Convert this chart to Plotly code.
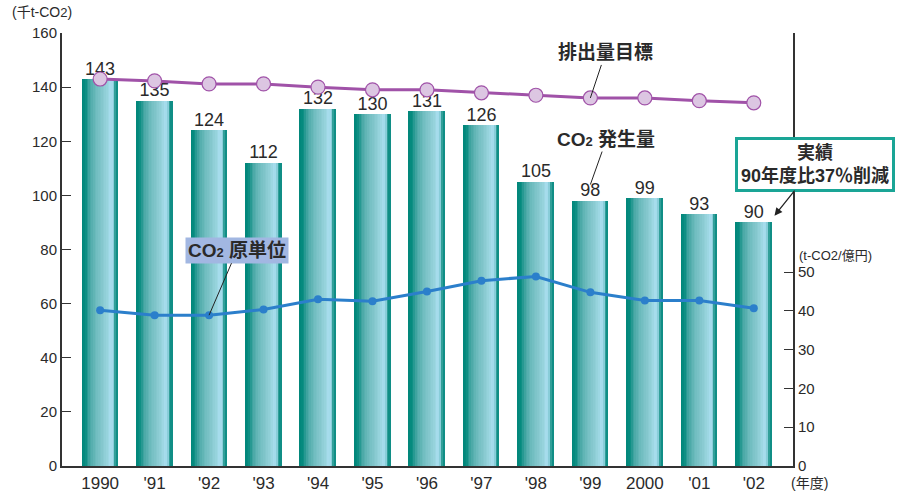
import plotly.graph_objects as go

# Fiscal years and values
years = ["1990", "'91", "'92", "'93", "'94", "'95", "'96", "'97", "'98", "'99", "2000", "'01", "'02"]
emissions = [143, 135, 124, 112, 132, 130, 131, 126, 105, 98, 99, 93, 90]          # 千t-CO2
target = [143, 142.3, 141.2, 141.2, 140, 139, 139, 137.9, 137, 136, 136, 135, 134.2]  # 排出量目標
intensity = [40.2, 38.9, 38.9, 40.4, 43.0, 42.5, 45.0, 47.8, 48.9, 44.8, 42.7, 42.7, 40.7]  # t-CO2/億円

left_ticks = [0, 20, 40, 60, 80, 100, 120, 140, 160]
right_ticks = [0, 10, 20, 30, 40, 50]

FONT = "Liberation Sans, Arial, Noto Sans CJK JP, sans-serif"
AXIS_COLOR = "#333333"
TEXT_COLOR = "#2a2a2a"

xs = list(range(len(years)))
BAR_W = 0.66
N_STRIPS = 22

# horizontal shading across each column: dark teal -> pale blue -> dark teal edge
stops = [
    (0.00, (0, 133, 122)),
    (0.10, (8, 140, 128)),
    (0.22, (70, 166, 164)),
    (0.40, (110, 188, 190)),
    (0.58, (134, 200, 206)),
    (0.72, (152, 212, 222)),
    (0.82, (170, 222, 240)),
    (0.88, (150, 212, 226)),
    (0.93, (50, 160, 154)),
    (1.00, (0, 134, 124)),
]


def shade(t):
    for (t0, c0), (t1, c1) in zip(stops[:-1], stops[1:]):
        if t0 <= t <= t1:
            f = (t - t0) / (t1 - t0) if t1 > t0 else 0
            c = [round(a + (b - a) * f) for a, b in zip(c0, c1)]
            return f"rgb({c[0]},{c[1]},{c[2]})"
    return "rgb(0,134,124)"


fig = go.Figure()

sw = BAR_W / N_STRIPS
for k in range(N_STRIPS):
    t = (k + 0.5) / N_STRIPS
    fig.add_trace(go.Bar(
        x=[x - BAR_W / 2 + (k + 0.5) * sw for x in xs],
        y=emissions,
        width=sw * 1.06,
        marker=dict(color=shade(t), line=dict(width=0)),
        hoverinfo="skip",
        showlegend=False,
    ))

# value labels above the columns
fig.add_trace(go.Scatter(
    x=xs, y=emissions, mode="text",
    text=[str(v) for v in emissions],
    textposition="top center",
    textfont=dict(family=FONT, size=18, color=TEXT_COLOR),
    cliponaxis=False, showlegend=False, hoverinfo="skip",
))

# emission target line
fig.add_trace(go.Scatter(
    x=xs, y=target, mode="lines+markers",
    line=dict(color="#a052a8", width=3),
    marker=dict(size=14, color="#dcc6e2", line=dict(color="#a052a8", width=1.2)),
    cliponaxis=False, showlegend=False,
))

# CO2 intensity line on the right axis
fig.add_trace(go.Scatter(
    x=xs, y=intensity, mode="lines+markers", yaxis="y2",
    line=dict(color="#2b7fcb", width=3),
    marker=dict(size=8, color="#2b7fcb"),
    cliponaxis=False, showlegend=False,
))

SUB2 = "<span style='font-size:13px'>2</span>"
ANN_FONT = dict(family=FONT, size=19, color=TEXT_COLOR)

annotations = [
    dict(x=9, y=136, xref="x", yref="y", text="<b>排出量目標</b>",
         ax=15, ay=-45, showarrow=True, arrowhead=0, arrowwidth=1, arrowcolor="#222",
         font=ANN_FONT),
    dict(x=9, y=104, xref="x", yref="y", text=f"<b>CO{SUB2} 発生量</b>",
         ax=16, ay=-45, showarrow=True, arrowhead=0, arrowwidth=1, arrowcolor="#222",
         font=ANN_FONT),
    dict(x=2, y=intensity[2], xref="x", yref="y2", text=f"<b>CO{SUB2} 原単位</b>",
         ax=28, ay=-65, showarrow=True, arrowhead=0, arrowwidth=1, arrowcolor="#222",
         bgcolor="#a2b7e2", borderpad=2,
         font=ANN_FONT),
    dict(x=12.38, y=92.5, xref="x", yref="y", text="<b>実績<br>90年度比37％削減</b>",
         ax=41, ay=-51, showarrow=True, arrowhead=2, arrowsize=1.2, arrowwidth=1.3, arrowcolor="#222",
         bgcolor="white", bordercolor="#1aa596", borderwidth=3, borderpad=3,
         font=dict(family=FONT, size=18, color=TEXT_COLOR)),
]

fig.update_layout(
    width=907, height=496,
    margin=dict(l=62, r=114, t=33, b=30),
    paper_bgcolor="white", plot_bgcolor="white",
    barmode="overlay", bargap=0,
    showlegend=False,
    font=dict(family=FONT, color=TEXT_COLOR),
    xaxis=dict(
        range=[-0.7, 12.72], tickmode="array", tickvals=xs, ticktext=years,
        showline=True, linecolor=AXIS_COLOR, linewidth=2, ticks="",
        showgrid=False, zeroline=False, ticklabelstandoff=1, automargin=False,
        tickfont=dict(family=FONT, size=17, color=TEXT_COLOR),
    ),
    yaxis=dict(
        range=[0, 160], tickmode="array", tickvals=left_ticks,
        showline=True, linecolor=AXIS_COLOR, linewidth=2,
        ticks="inside", ticklen=9, tickcolor=AXIS_COLOR, tickwidth=1.2,
        showgrid=False, zeroline=False, automargin=False,
        tickfont=dict(family=FONT, size=15, color=TEXT_COLOR),
    ),
    yaxis2=dict(
        overlaying="y", side="right", range=[0, 111.7], tickmode="array", tickvals=right_ticks,
        showline=True, linecolor=AXIS_COLOR, linewidth=2,
        ticks="inside", ticklen=9, tickcolor=AXIS_COLOR, tickwidth=1.2,
        showgrid=False, zeroline=False, automargin=False,
        tickfont=dict(family=FONT, size=15, color=TEXT_COLOR),
    ),
    annotations=annotations,
)

# unit captions placed in paper coordinates derived from pixel positions
plot_w = 907 - 62 - 114
plot_h = 496 - 33 - 30


def paper_xy(px, py):
    return (px - 62) / plot_w, (496 - py - 30) / plot_h


for text, (px, py), size in [
    (f"(千t-CO{SUB2})", (10, 12), 14),
    (f"(t-CO{SUB2}/億円)", (797, 255), 13),
    ("(年度)", (789, 483), 14),
]:
    xp, yp = paper_xy(px, py)
    fig.add_annotation(x=xp, y=yp, xref="paper", yref="paper", xanchor="left", yanchor="middle",
                       text=text, showarrow=False, font=dict(family=FONT, size=size, color=TEXT_COLOR))

fig.write_html("out.html")
